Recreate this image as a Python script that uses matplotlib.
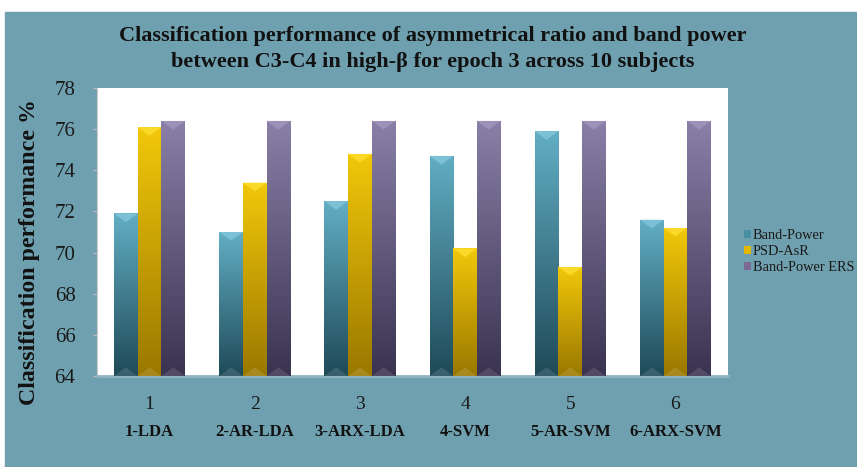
import numpy as np
import matplotlib
matplotlib.use("Agg")
import matplotlib.pyplot as plt
from matplotlib.colors import LinearSegmentedColormap
from matplotlib.patches import Rectangle, Polygon

# Data
groups = ["1", "2", "3", "4", "5", "6"]
methods = ["1-LDA", "2-AR-LDA", "3-ARX-LDA", "4-SVM", "5-AR-SVM", "6-ARX-SVM"]
series_names = ["Band-Power", "PSD-AsR", "Band-Power ERS"]
band_power = [71.9, 71.0, 72.5, 74.7, 75.9, 71.6]
psd_asr = [76.1, 73.4, 74.8, 70.2, 69.3, 71.2]
band_power_ers = [76.4, 76.4, 76.4, 76.4, 76.4, 76.4]
y_min, y_max = 64, 78

series = [band_power, psd_asr, band_power_ers]
# (bottom colour, top colour, cap colour)
palettes = [
    ("#1f4a58", "#62aec4", "#86c8dc"),
    ("#9a7800", "#f2c80a", "#ffe033"),
    ("#3a3350", "#8a80a8", "#a399bd"),
]
legend_colors = ["#4a8ea3", "#e5b800", "#7a6a94"]

serif = ["Liberation Serif", "DejaVu Serif"]
bg = "#6fa0b0"

fig = plt.figure(figsize=(8.57, 4.67), dpi=100, facecolor="white")
fig.patches.append(Rectangle((5 / 857, 0), 1, (467 - 12) / 467,
                             transform=fig.transFigure, color=bg, zorder=-10))

ax = fig.add_axes([97 / 857, 91 / 467, 631 / 857, 288 / 467])
ax.set_facecolor("white")

x = np.arange(1, len(groups) + 1)
width = 0.225
offsets = [-width, 0, width]
grad = np.linspace(0, 1, 256).reshape(-1, 1)
cap = 0.42

for vals, off, (c0, c1, ccap), name, lc in zip(series, offsets, palettes,
                                              series_names, legend_colors):
    cmap = LinearSegmentedColormap.from_list(name, [c0, c1])
    bars = ax.bar(x + off, np.array(vals) - y_min, width, bottom=y_min,
                  color=lc, label=name, zorder=2)
    for b in bars:
        x0, w = b.get_x(), b.get_width()
        top = b.get_y() + b.get_height()
        im = ax.imshow(grad, cmap=cmap, origin="lower", aspect="auto",
                       extent=(x0, x0 + w, y_min, top), zorder=3)
        im.set_clip_path(b)
        ax.add_patch(Polygon([(x0, top), (x0 + w, top),
                              (x0 + w / 2, top - cap)],
                             closed=True, color=ccap, alpha=0.75, lw=0,
                             zorder=4))
        ax.add_patch(Polygon([(x0, y_min), (x0 + w, y_min),
                              (x0 + w / 2, y_min + cap)],
                             closed=True, color="white", alpha=0.12, lw=0,
                             zorder=4))

ax.set_xlim(0.5, len(groups) + 0.5)
ax.set_ylim(y_min, y_max)
ax.set_yticks(np.arange(64, 79, 2))
ax.set_yticklabels([str(v) for v in range(64, 79, 2)], fontfamily=serif,
                   fontsize=15, color="#1a1a1a")
ax.set_xticks(x)
ax.set_xticklabels([""] * len(groups))
for xi, g, m in zip(x, groups, methods):
    ax.text(xi, -0.1, g, transform=ax.get_xaxis_transform(), ha="center",
            va="center", fontfamily=serif, fontsize=14, color="#1a1a1a")
    ax.text(xi, -0.195, m, transform=ax.get_xaxis_transform(), ha="center",
            va="center", fontfamily=serif, fontsize=12, fontweight="bold",
            color="#111111")

ax.tick_params(axis="x", length=0)
ax.tick_params(axis="y", length=3, color="#bbbbbb", pad=12.5)
for s in ["top", "right"]:
    ax.spines[s].set_visible(False)
ax.spines["left"].set_color("#cccccc")
ax.spines["bottom"].set_color("#8fb3c0")
ax.spines["bottom"].set_linewidth(2)

ax.set_ylabel("Classification performance %", fontfamily=serif, fontsize=17.2,
              fontweight="bold", color="#111111")
ax.yaxis.set_label_coords(-(97 - 30) / 631, (376 - 252) / 288)
ax.yaxis.label.set_va("center")

fig.text(0.505, 1 - 49 / 467,
         "Classification performance of asymmetrical ratio and band power\n"
         "between C3-C4 in high-β for epoch 3 across 10 subjects",
         ha="center", va="center", fontfamily=serif, fontsize=16,
         fontweight="bold", color="#111111", linespacing=1.35)

handles, labels = ax.get_legend_handles_labels()
leg = fig.legend(handles, labels, loc="upper left",
                 bbox_to_anchor=(744 / 857, 1 - 229 / 467), frameon=False,
                 prop={"family": serif, "size": 10.4}, handlelength=0.45,
                 handleheight=0.45, handletextpad=0.15, labelspacing=0.22,
                 borderaxespad=0, borderpad=0, labelcolor="#1a1a1a")

fig.savefig("out.png", dpi=100, facecolor=fig.get_facecolor())
